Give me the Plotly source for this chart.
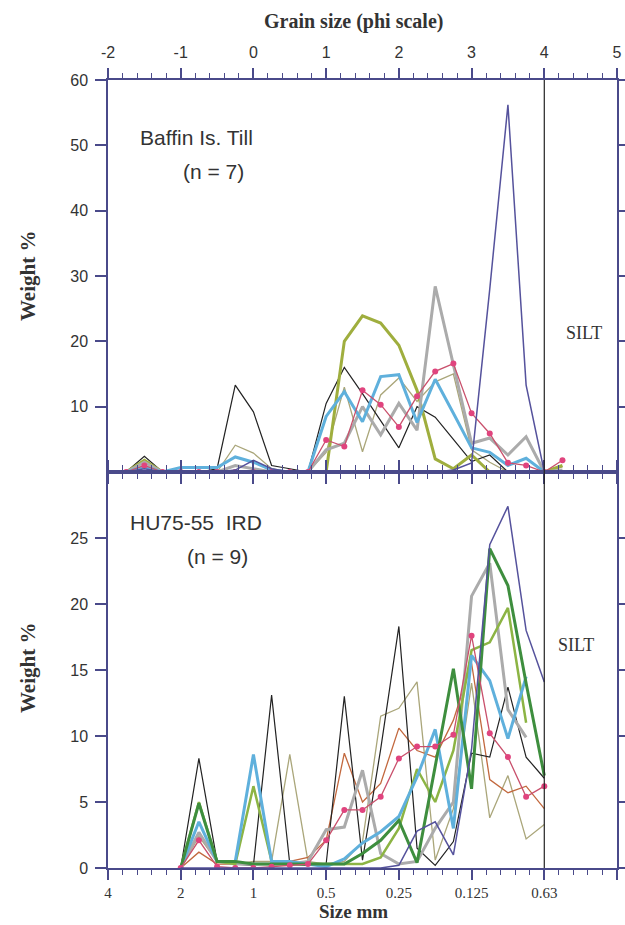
import plotly.graph_objects as go

# ---------------- data ----------------
PHI_TOP = [-1.75, -1.5, -1.25, -1.0, -0.75, -0.5, -0.25, 0.0, 0.25, 0.5, 0.75, 1.0,
           1.25, 1.5, 1.75, 2.0, 2.25, 2.5, 2.75, 3.0, 3.25, 3.5, 3.75, 4.0, 4.25]

top_navy = [0, 0.5, 0, 0, 0, 0, 0.3, 1.8, 0.5, 0, 0, 0, 0, 0, 0, 0, 0, 0, 0.3, 1.4, 28.0, 56.2, 13.3, 0, None]
top_olive = [0, 1.8, 0, 0, 0, 0, 0, 0, 0, 0, 0, 0, 20.0, 23.9, 22.8, 19.4, 12.5, 2.0, 0.5, 2.6, 0, 0, 0, 0, 1.0]
top_gray = [0, 1.5, 0, 0, 0, 0, 1.0, 0.5, 0, 0, 0, 3.4, 4.4, 10.0, 5.7, 10.5, 6.4, 28.4, 16.4, 4.4, 5.2, 2.6, 5.4, 0, 0.3]
top_magenta = [0, 1.0, 0, 0, 0, 0, 0, 0, 0, 0, 0, 4.9, 3.9, 12.5, 10.3, 6.9, 11.6, 15.4, 16.6, 9.0, 5.9, 1.4, 1.0, 0, 1.8]
top_blue = [0, 0.8, 0, 0.7, 0.7, 0.7, 2.3, 1.5, 0.3, 0, 0, 8.5, 12.3, 7.7, 14.6, 14.9, 7.6, 14.2, 9.0, 3.7, 3.0, 1.0, 2.1, 0, None]
top_black = [0, 2.4, 0, 0, 0, 0.5, 13.3, 9.2, 1.0, 0.5, 0, 10.5, 16.0, 12.0, 7.9, 3.7, 10.0, 8.4, 5.0, 1.6, 2.6, 0, 0, 0, None]
top_khaki = [0, 1.5, 0, 0, 0, 0, 4.1, 2.9, 0.5, 0, 0, 3.0, 13.0, 3.1, 11.8, 14.4, 10.8, 13.8, 15.0, 3.4, 1.5, 0, 0, 0, 0.8]

PHI_BOT = [-1.0, -0.75, -0.5, -0.25, 0.0, 0.25, 0.5, 0.75, 1.0, 1.25, 1.5, 1.75,
           2.0, 2.25, 2.5, 2.75, 3.0, 3.25, 3.5, 3.75, 4.0]

bot_navy = [0, 0, 0, 0, 0, 0, 0, 0, 0, 0, 0, 0, 0.2, 2.8, 3.5, 1.0, 9.0, 24.5, 27.4, 18.0, 14.1]
bot_green = [0, 4.9, 0.5, 0.5, 0.3, 0.3, 0.3, 0.3, 0.3, 0.3, 1.1, 2.1, 3.6, 0.4, 7.7, 15.1, 6.0, 24.2, 21.4, 14.0, 7.0]
bot_gray = [0, 2.7, 0.5, 0.3, 0.3, 0.3, 0.3, 0.5, 2.9, 3.1, 7.4, 1.1, 0.3, 0.5, 3.0, 5.0, 20.6, 23.1, 12.0, 9.9, None]
bot_olive = [0, 5.0, 0.5, 0.3, 6.2, 0.5, 0.3, 0.3, 0.3, 0.3, 0.3, 0.8, 3.0, 7.5, 5.0, 8.9, 16.5, 17.1, 19.7, 11.0, None]
bot_magenta = [0, 2.1, 0.1, 0, 0, 0.1, 0.2, 0.3, 2.1, 4.4, 4.4, 5.4, 8.3, 9.2, 9.2, 10.1, 17.6, 10.2, 8.4, 5.4, 6.2]
bot_blue = [0, 3.5, 0.5, 0.5, 8.6, 0.5, 0.5, 0.3, 0.1, 0.7, 1.9, 2.75, 3.9, 6.9, 10.5, 3.0, 16.1, 14.2, 9.8, 14.5, None]
bot_black = [0, 8.3, 0.5, 0.3, 0.2, 13.1, 0.3, 0.2, 0.3, 13.0, 0.6, 9.0, 18.3, 1.5, 0.2, 2.0, 8.7, 8.4, 13.7, 8.4, 6.8]
bot_khaki = [0, 2.4, 0.5, 0.3, 0.5, 0.5, 8.6, 0.5, 0.3, 0.5, 2.0, 11.5, 12.1, 14.1, 0.6, 4.5, 14.0, 3.8, 7.0, 2.2, 3.3]
bot_orange = [0, 1.2, 0.3, 0.3, 0.3, 0.3, 0.5, 0.8, 2.1, 8.7, 5.0, 6.4, 10.6, 8.9, 8.4, 11.2, 15.5, 6.7, 5.7, 6.2, 4.5]

PHI_TICKS = [-2, -1, 0, 1, 2, 3, 4, 5]
PHI_LABELS = ["-2", "-1", "0", "1", "2", "3", "4", "5"]
MM_LABELS = ["4", "2", "1", "0.5", "0.25", "0.125", "0.63", ""]

# ---------------- styles ----------------
NAVY = "#55529c"
OLIVE = "#9fae3e"
GRAY = "#ababab"
MAGENTA = "#c9506c"
DOT = "#e0447e"
BLUE = "#5fb0dc"
BLACK = "#222222"
KHAKI = "#aaa67a"
GREEN = "#3e8e3e"
OLIVE2 = "#8cb444"
ORANGE = "#c2683e"
AXIS = "#4a4a8a"

fig = go.Figure()

def add(x, y, color, width, xa, ya, dots=False):
    fig.add_trace(go.Scatter(
        x=x, y=y, mode="lines+markers" if dots else "lines",
        line=dict(color=color, width=width),
        marker=dict(color=DOT, size=6) if dots else None,
        xaxis=xa, yaxis=ya, showlegend=False, connectgaps=False,
        hoverinfo="skip"))

# top panel
add(PHI_TOP, top_khaki, KHAKI, 1.3, "x", "y")
add(PHI_TOP, top_black, BLACK, 1.2, "x", "y")
add(PHI_TOP, top_olive, OLIVE, 3, "x", "y")
add(PHI_TOP, top_gray, GRAY, 3, "x", "y")
add(PHI_TOP, top_blue, BLUE, 3, "x", "y")
add(PHI_TOP, top_magenta, MAGENTA, 1.3, "x", "y", dots=True)
add(PHI_TOP, top_navy, NAVY, 1.5, "x", "y")

# bottom panel
add(PHI_BOT, bot_khaki, KHAKI, 1.3, "x2", "y2")
add(PHI_BOT, bot_orange, ORANGE, 1.3, "x2", "y2")
add(PHI_BOT, bot_black, BLACK, 1.2, "x2", "y2")
add(PHI_BOT, bot_gray, GRAY, 3, "x2", "y2")
add(PHI_BOT, bot_olive, OLIVE2, 2.5, "x2", "y2")
add(PHI_BOT, bot_blue, BLUE, 3, "x2", "y2")
add(PHI_BOT, bot_green, GREEN, 3, "x2", "y2")
add(PHI_BOT, bot_magenta, MAGENTA, 1.3, "x2", "y2", dots=True)
add(PHI_BOT, bot_navy, NAVY, 1.5, "x2", "y2")

W, H = 625, 925
XD = [108 / W, 617 / W]
TOP_D = [1 - 472 / H, 1 - 80 / H]
BOT_D = [1 - 868 / H, 1 - 472 / H]

sans = "Liberation Sans, Arial, sans-serif"
serif = "Liberation Serif, Times New Roman, serif"

xcommon = dict(range=[-2, 5], showgrid=False, zeroline=False, showline=True,
               linecolor=AXIS, linewidth=1.5, mirror="ticks", ticks="outside",
               ticklen=10, tickwidth=1.5, tickcolor=AXIS,
               minor=dict(dtick=0.2, tick0=0, ticks="outside", ticklen=5,
                          tickwidth=1.2, tickcolor=AXIS, showgrid=False),
               automargin=False, domain=XD)
ycommon = dict(showgrid=False, zeroline=False, showline=True, linecolor=AXIS,
               linewidth=1.5, mirror="ticks", ticks="outside", ticklen=11,
               tickwidth=1.5, tickcolor=AXIS, automargin=False,
               ticklabelstandoff=4,
               tickfont=dict(family=sans, size=16, color="#333333"))

fig.update_layout(
    width=W, height=H, margin=dict(l=0, r=0, t=0, b=0),
    paper_bgcolor="white", plot_bgcolor="white",
    xaxis=dict(**xcommon, anchor="y", side="top", tickvals=PHI_TICKS,
               ticktext=PHI_LABELS, ticklabelstandoff=4,
               tickfont=dict(family=sans, size=16, color="#333333")),
    yaxis=dict(**ycommon, domain=TOP_D, anchor="x", range=[0, 60],
               tickvals=[10, 20, 30, 40, 50, 60]),
    xaxis2=dict(**xcommon, anchor="y2", side="bottom", tickvals=PHI_TICKS,
                ticktext=MM_LABELS,
                tickfont=dict(family=serif, size=15, color="#333333")),
    yaxis2=dict(**ycommon, domain=BOT_D, anchor="x2", range=[0, 30],
                tickvals=[0, 5, 10, 15, 20, 25]),
)

fig.add_shape(type="line", xref="x", yref="paper", x0=4, x1=4,
              y0=BOT_D[0], y1=TOP_D[1], line=dict(color=BLACK, width=1.2))

def ann(text, x, y, font, angle=0):
    fig.add_annotation(text=text, x=x / W, y=1 - y / H, xref="paper", yref="paper",
                       showarrow=False, font=font, textangle=angle,
                       xanchor="center", yanchor="middle")

ann("<b>Grain size (phi scale)</b>", 353, 22, dict(family=serif, size=20, color="#333"))
ann("<b>Size mm</b>", 353, 911, dict(family=serif, size=19, color="#333"))
ann("<b>Weight %</b>", 28, 276, dict(family=serif, size=21, color="#333"), -90)
ann("<b>Weight %</b>", 28, 668, dict(family=serif, size=21, color="#333"), -90)
ann("Baffin Is. Till", 196, 137, dict(family=sans, size=21, color="#333"))
ann("(n = 7)", 213, 171, dict(family=sans, size=21, color="#333"))
ann("HU75-55  IRD", 196, 522, dict(family=sans, size=21, color="#333"))
ann("(n = 9)", 217, 556, dict(family=sans, size=21, color="#333"))
ann("SILT", 584, 333, dict(family=serif, size=18, color="#333"))
ann("SILT", 576, 645, dict(family=serif, size=18, color="#333"))

fig.write_html("out.html")
